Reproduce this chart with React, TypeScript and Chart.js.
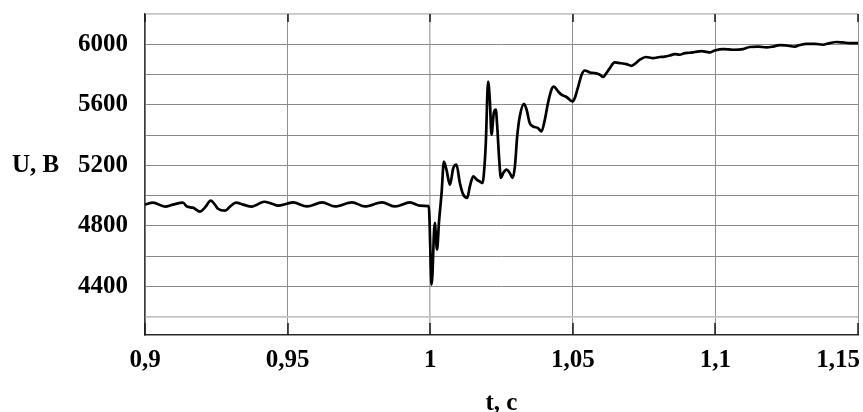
import React, { useEffect, useRef } from "react";
import { Chart, registerables } from "chart.js";

Chart.register(...registerables);

// time, s
const times = [
  0.9, 0.9028, 0.907, 0.9098, 0.9133, 0.9147, 0.9168, 0.9193, 0.921, 0.9231, 0.9245,
  0.9256, 0.9281, 0.9298, 0.9319, 0.9344, 0.9375, 0.9393, 0.9417, 0.9445, 0.9466, 0.9498,
  0.9519, 0.9568, 0.9621, 0.9666, 0.9726, 0.9771, 0.9831, 0.9877, 0.9929, 0.9964, 0.9995,
  1.0005, 1.0016, 1.0024, 1.0031, 1.004, 1.0048, 1.0057, 1.0069, 1.0081, 1.0092,
  1.0104, 1.0116, 1.013, 1.0139, 1.0151, 1.0163, 1.0174, 1.0184, 1.0188, 1.0195,
  1.0203, 1.0209, 1.0215, 1.0223, 1.023, 1.0235, 1.0242, 1.0248, 1.0256, 1.0268,
  1.0279, 1.0289, 1.0297, 1.0305, 1.0314, 1.0329, 1.0338, 1.0349, 1.0361, 1.0378,
  1.039, 1.0402, 1.0413, 1.0425, 1.0433, 1.0449, 1.046, 1.0478, 1.0499, 1.0507,
  1.0519, 1.0531, 1.0542, 1.056, 1.0577, 1.0595, 1.0606, 1.0618, 1.063, 1.0647,
  1.0665, 1.0688, 1.0706, 1.0721, 1.0735, 1.0756, 1.0781, 1.0805, 1.0822, 1.084,
  1.0858, 1.0875, 1.0893, 1.091, 1.0928, 1.0951, 1.0969, 1.098, 1.0998, 1.1027,
  1.1062, 1.1097, 1.112, 1.115, 1.1179, 1.1202, 1.1226, 1.1249, 1.1278, 1.1296,
  1.1319, 1.1348, 1.1377, 1.1401, 1.1424, 1.1447, 1.1471, 1.15,
];

// voltage, V
const volts = [
  4941, 4954, 4928, 4941, 4954, 4928, 4921, 4895, 4921, 4967, 4941,
  4914, 4901, 4928, 4954, 4941, 4928, 4941, 4960, 4947, 4934, 4947,
  4956, 4929, 4956, 4929, 4956, 4929, 4956, 4929, 4956, 4934, 4931,
  4413, 4820, 4644, 4830, 5020, 5226, 5172, 5073, 5183, 5205,
  5084, 5007, 4985, 5061, 5127, 5106, 5094, 5084, 5139, 5348,
  5754, 5634, 5403, 5546, 5568, 5457, 5238, 5117, 5150, 5172,
  5150, 5117, 5193, 5391, 5523, 5607, 5568, 5480, 5457, 5447,
  5424, 5502, 5612, 5700, 5721, 5688, 5667, 5652, 5622, 5645,
  5721, 5799, 5827, 5814, 5810, 5799, 5784, 5810, 5843, 5880,
  5876, 5869, 5858, 5876, 5898, 5916, 5909, 5916, 5919, 5926,
  5935, 5931, 5942, 5944, 5949, 5955, 5950, 5946, 5959, 5968,
  5964, 5968, 5982, 5985, 5979, 5985, 5995, 5992, 5985, 5995,
  6003, 6003, 5997, 6008, 6015, 6012, 6008, 6008,
];

const xTicks = [0.9, 0.95, 1, 1.05, 1.1, 1.15];
const yTicks = [4200, 4400, 4600, 4800, 5000, 5200, 5400, 5600, 5800, 6000, 6200];
const yLabelStep = 400;
const xMin = 0.9;
const xMax = 1.15;
const yMin = 4080;
const yMax = 6200;
const yTitle = "U, B";
const xTitle = "t, c";

const FONT = '"Liberation Serif", "Times New Roman", serif';
const FONT_SIZE = 25;
const X_PAD = 11;

const fmtX = (v: number) => String(parseFloat(v.toFixed(2))).replace(".", ",");

const overlay = {
  id: "overlay",
  afterDraw(chart: any) {
    const { ctx, chartArea, scales } = chart;
    ctx.save();
    // short inward tick marks on top and bottom edges
    ctx.strokeStyle = "#1a1a1a";
    ctx.lineWidth = 1.5;
    for (const v of xTicks) {
      const px = Math.round(scales.x.getPixelForValue(v));
      ctx.beginPath();
      ctx.moveTo(px, chartArea.top);
      ctx.lineTo(px, chartArea.top + 8);
      ctx.moveTo(px, chartArea.bottom - 12);
      ctx.lineTo(px, chartArea.bottom);
      ctx.stroke();
    }
    ctx.fillStyle = "#000";
    ctx.font = `bold ${FONT_SIZE}px ${FONT}`;
    ctx.textBaseline = "middle";
    // last x label, kept inside the canvas
    ctx.textAlign = "right";
    const lastV = xTicks[xTicks.length - 1];
    ctx.fillText(fmtX(lastV), chartArea.right + 2, chartArea.bottom + X_PAD + (FONT_SIZE * 1.2) / 2);
    // horizontal y title
    ctx.textAlign = "left";
    ctx.fillText(yTitle, 12, scales.y.getPixelForValue(5200));
    ctx.restore();
  },
};

export default function App() {
  const ref = useRef<HTMLCanvasElement | null>(null);

  useEffect(() => {
    if (!ref.current) return;
    const data = times.map((t, i) => ({ x: t, y: volts[i] }));
    const chart = new Chart(ref.current, {
      type: "line",
      data: {
        datasets: [
          {
            data,
            borderColor: "#000",
            borderWidth: 2.7,
            pointRadius: 0,
            cubicInterpolationMode: "monotone",
            fill: false,
          },
        ],
      },
      options: {
        responsive: false,
        animation: false,
        maintainAspectRatio: false,
        layout: { padding: { top: 14, right: 5, left: 0, bottom: 0 } },
        plugins: { legend: { display: false }, tooltip: { enabled: false }, title: { display: false } },
        scales: {
          x: {
            type: "linear",
            min: xMin,
            max: xMax,
            afterBuildTicks: (s: any) => {
              s.ticks = xTicks.map((v) => ({ value: v }));
            },
            afterFit: (s: any) => {
              s.height = 77;
              s.paddingLeft = 0;
              s.paddingRight = 0;
              s.paddingTop = 0;
              s.paddingBottom = 0;
            },
            ticks: {
              autoSkip: false,
              maxRotation: 0,
              padding: X_PAD,
              color: "#000",
              font: { family: FONT, size: FONT_SIZE, weight: "bold" },
              callback: (v: any) => (Math.abs(Number(v) - xTicks[xTicks.length - 1]) < 1e-6 ? "" : fmtX(Number(v))),
            },
            grid: {
              drawTicks: false,
              color: (c: any) => (c.tick && Math.abs(c.tick.value - 1) < 1e-6 ? "#b5b5b5" : "#8f8f8f"),
              lineWidth: (c: any) => (c.tick && Math.abs(c.tick.value - 1) < 1e-6 ? 1.6 : 1),
            },
            border: { display: true, color: "#2a2a2a", width: 1.5 },
            title: {
              display: true,
              text: xTitle,
              color: "#000",
              font: { family: FONT, size: FONT_SIZE, weight: "bold", lineHeight: 0.7 },
              padding: 0,
            },
          },
          y: {
            type: "linear",
            min: yMin,
            max: yMax,
            afterBuildTicks: (s: any) => {
              s.ticks = yTicks.map((v) => ({ value: v }));
            },
            afterFit: (s: any) => {
              s.width = 145;
              s.paddingLeft = 0;
              s.paddingRight = 0;
              s.paddingTop = 0;
              s.paddingBottom = 0;
            },
            ticks: {
              autoSkip: false,
              padding: 17,
              color: "#000",
              font: { family: FONT, size: FONT_SIZE, weight: "bold" },
              callback: (v: any) => (Number(v) % yLabelStep === 0 ? String(v) : ""),
            },
            grid: {
              drawTicks: false,
              color: (c: any) =>
                c.tick && (c.tick.value === 4200 || c.tick.value === 6200) ? "#c4c4c4" : "#8a8a8a",
              lineWidth: (c: any) =>
                c.tick && (c.tick.value === 4200 || c.tick.value === 6200) ? 1.8 : 1,
            },
            border: { display: true, color: "#3a3a3a", width: 1.3 },
          },
        },
      },
      plugins: [overlay],
    } as any);
    return () => chart.destroy();
  }, []);

  return (
    <div style={{ position: "fixed", left: 0, top: 0, width: 863, height: 412, background: "#fff" }}>
      <canvas ref={ref} width={863} height={412} style={{ display: "block", width: 863, height: 412 }} />
    </div>
  );
}
